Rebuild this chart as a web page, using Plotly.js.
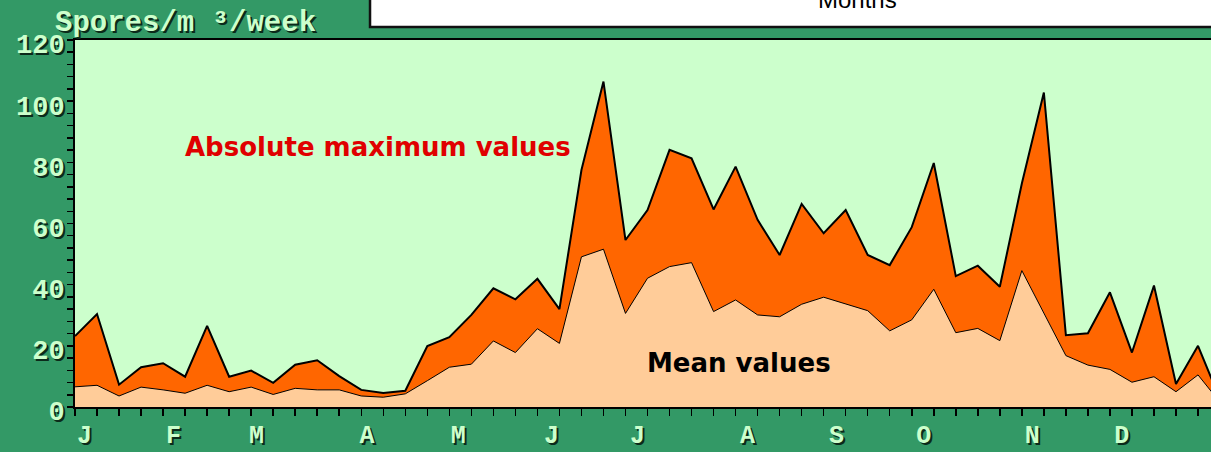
<!DOCTYPE html>
<html>
<head>
<meta charset="utf-8">
<script src="https://cdn.plot.ly/plotly-3.0.1.min.js"></script>
<style>
html,body{margin:0;padding:0;background:#339966;overflow:hidden;}
#chart{width:1211px;height:452px;}
</style>
</head>
<body>
<div id="chart"></div>
<script>
// Weekly spore counts (spores/m3/week), 53 weekly points
const maxValues = [23.2, 30.4, 7.3, 13.0, 14.3, 9.9, 26.5, 9.9, 11.9, 7.9, 13.8, 15.3, 10.1, 5.6, 4.6,
  5.3, 19.9, 22.8, 30.1, 38.8, 35.2, 41.9, 32.0, 77.5, 106.4, 54.6, 64.4, 84.1,
  81.3, 64.6, 78.6, 61.2, 49.7, 66.4, 56.8, 64.4, 49.7, 46.4, 58.8, 79.8,
  42.8, 46.2, 39.3, 73.1, 102.8, 23.5, 24.1, 37.5, 17.8, 39.7, 7.5, 20.0, 2.5];
const meanValues = [6.6, 7.1, 3.6, 6.5, 5.6, 4.5, 7.1, 5.0, 6.5, 4.1, 6.1, 5.6, 5.6, 3.6, 3.2,
  4.3, 8.6, 13.0, 14.0, 21.6, 17.8, 25.6, 20.8, 49.1, 51.6, 30.6, 42.1, 45.9,
  47.2, 31.2, 35.0, 30.1, 29.5, 33.6, 35.9, 33.6, 31.5, 24.9, 28.5, 38.5,
  24.3, 25.7, 21.7, 44.6, 30.6, 16.8, 13.7, 12.3, 8.1, 9.9, 5.0, 10.5, 1.5];
const monthLabels = ["J","F","M","A","M","J","J","A","S","O","N","D"];
const monthLabelWeeks = [0.43, 4.47, 8.24, 13.26, 17.41, 21.64, 25.54, 30.54, 34.58, 38.55, 43.47, 47.54];
const yTickValues = [0, 20, 40, 60, 80, 100, 120];

const weeks = maxValues.map((_, i) => i);

const monoFont = "Liberation Mono, Courier New, monospace";
const shadow = "2px 2px 0px #0b2a1a";

const traces = [
  {x: weeks, y: maxValues, type: "scatter", mode: "lines", fill: "tozeroy",
   fillcolor: "#FF6600", line: {color: "#000000", width: 2}, hoverinfo: "skip"},
  {x: weeks, y: meanValues, type: "scatter", mode: "lines", fill: "tozeroy",
   fillcolor: "#FFCC99", line: {color: "#000000", width: 1}, hoverinfo: "skip"}
];

const layout = {
  width: 1211, height: 452,
  margin: {l: 75, r: 0, t: 40, b: 45, pad: 0},
  paper_bgcolor: "#339966",
  plot_bgcolor: "#CCFFCC",
  showlegend: false,
  xaxis: {
    range: [0, 51.59], showgrid: false, zeroline: false,
    showline: true, linecolor: "#000", linewidth: 2, mirror: true,
    tickmode: "array", tickvals: monthLabelWeeks, ticktext: monthLabels,
    ticks: "", ticklabelstandoff: 4,
    tickfont: {family: monoFont, size: 25, color: "#CCFFCC", weight: "bold", shadow: shadow},
    minor: {ticks: "outside", ticklen: 7, tickwidth: 1.5, tickcolor: "#000", dtick: 1, tick0: 0, showgrid: false}
  },
  yaxis: {
    range: [0, 120], showgrid: false, zeroline: false,
    showline: true, linecolor: "#000", linewidth: 2,
    tickmode: "array", tickvals: yTickValues,
    ticks: "outside", ticklen: 6, tickwidth: 1.5, tickcolor: "#000",
    ticklabelshift: 4, ticklabelstandoff: -3,
    tickfont: {family: monoFont, size: 27, color: "#CCFFCC", weight: "bold", shadow: shadow},
    minor: {ticks: "outside", ticklen: 6, tickwidth: 1.5, tickcolor: "#000", dtick: 4, tick0: 0, showgrid: false}
  },
  shapes: [
    {type: "rect", xref: "paper", yref: "paper", x0: 0.2597, x1: 1.05, y0: 1.0354, y1: 1.4,
     fillcolor: "#FFFFFF", line: {color: "#111", width: 2.5}, layer: "above"}
  ],
  annotations: [
    {text: "Spores/m ³/week", xref: "paper", yref: "paper", x: 0.097, y: 1.045,
     xanchor: "center", yanchor: "middle", showarrow: false,
     font: {family: monoFont, size: 29, color: "#CCFFCC", weight: "bold", shadow: shadow}},
    {text: "Months", xref: "paper", yref: "paper", x: 0.689, y: 1.071,
     xanchor: "center", yanchor: "bottom", showarrow: false, borderpad: 0,
     font: {family: "Liberation Sans, Arial, sans-serif", size: 24, color: "#000"}},
    {text: "Absolute maximum values", xref: "x", yref: "y", x: 13.76, y: 85,
     xanchor: "center", yanchor: "middle", showarrow: false,
     font: {family: "DejaVu Sans, Verdana, sans-serif", size: 26, color: "#E00000", weight: "bold"}},
    {text: "Mean values", xref: "x", yref: "y", x: 30.15, y: 14.4,
     xanchor: "center", yanchor: "middle", showarrow: false,
     font: {family: "DejaVu Sans, Verdana, sans-serif", size: 26, color: "#000", weight: "bold"}}
  ]
};

Plotly.newPlot("chart", traces, layout, {staticPlot: true, displayModeBar: false});
</script>
</body>
</html>
